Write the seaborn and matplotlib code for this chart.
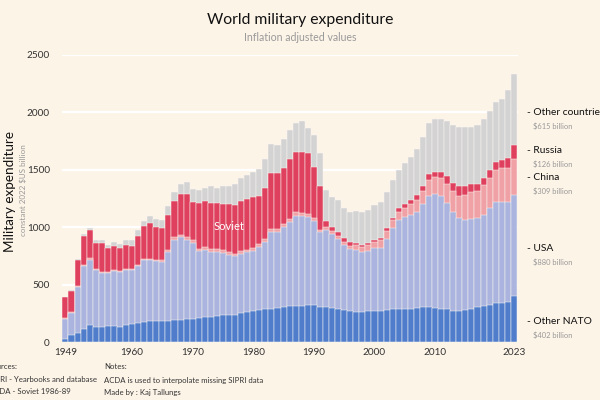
import numpy as np
import pandas as pd
import matplotlib
matplotlib.use("Agg")
import matplotlib.pyplot as plt
import matplotlib.transforms as mtransforms
import seaborn as sns

# expenditure, constant 2022 $US billion, 1949-2023
years = list(range(1949, 2024))

other_nato = [26, 64, 81, 111, 146, 134, 134, 142, 142, 134,
              146, 157, 163, 175, 183, 186, 186, 186, 192, 192,
              198, 204, 210, 215, 221, 227, 233, 239, 239, 250,
              262, 274, 280, 285, 291, 297, 303, 315, 315, 315,
              321, 321, 309, 303, 297, 291, 280, 270, 265, 265,
              270, 270, 270, 276, 291, 291, 285, 291, 297, 303,
              309, 297, 291, 285, 274, 274, 280, 291, 303, 314,
              326, 338, 344, 349, 402]
usa = [172, 192, 396, 553, 570, 495, 466, 458, 475, 477,
       483, 466, 495, 535, 527, 518, 512, 594, 699, 722,
       693, 658, 580, 585, 565, 559, 542, 519, 507, 519,
       519, 518, 547, 588, 664, 658, 698, 727, 785, 780,
       768, 733, 646, 669, 640, 606, 564, 536, 535, 521,
       527, 545, 551, 621, 699, 769, 804, 815, 838, 896,
       966, 996, 984, 926, 855, 803, 786, 781, 774, 792,
       838, 885, 879, 868, 880]
china = [7, 7, 8, 11, 12, 11, 11, 11, 11, 11,
         11, 11, 12, 12, 12, 12, 14, 23, 21, 21,
         21, 23, 23, 25, 24, 24, 25, 24, 24, 24,
         24, 24, 25, 27, 29, 29, 29, 29, 29, 27,
         25, 23, 23, 29, 29, 29, 29, 34, 41, 41,
         47, 53, 64, 70, 70, 69, 81, 93, 99, 117,
         134, 145, 157, 169, 187, 192, 215, 232, 239, 262,
         268, 279, 291, 303, 309]
russia = [185, 185, 231, 245, 244, 222, 251, 204, 205, 193,
          204, 205, 250, 285, 315, 285, 283, 303, 316, 357,
          380, 332, 398, 400, 401, 401, 405, 418, 424, 436,
          441, 448, 423, 445, 489, 489, 484, 524, 525, 537,
          534, 448, 379, 53, 35, 29, 30, 28, 21, 19,
          18, 23, 23, 23, 23, 35, 35, 41, 47, 46,
          58, 47, 47, 70, 70, 88, 76, 76, 64, 58,
          70, 70, 69, 87, 126]
other = [5, 5, 6, 23, 18, 23, 23, 29, 40, 41,
         41, 46, 52, 47, 58, 71, 71, 76, 82, 88,
         100, 117, 109, 120, 151, 134, 152, 157, 180, 203,
         210, 221, 233, 245, 250, 244, 256, 251, 256, 263,
         215, 280, 291, 268, 262, 279, 261, 261, 276, 283,
         291, 303, 315, 320, 326, 338, 355, 373, 402, 420,
         443, 454, 460, 471, 500, 518, 512, 489, 506, 513,
         513, 518, 536, 588, 615]

series_names = ["Other NATO", "USA", "China", "Russia", "Other countries"]
series_colors = ["#4f7dcc", "#aab4de", "#f0a1a6", "#de405e", "#d3d3d3"]
label_texts = ["- Other NATO", "- USA", "- China", "- Russia", "- Other countries"]
label_y = [175, 812, 1432, 1668, 2000]
ticks = [1949, 1960, 1970, 1980, 1990, 2000, 2010, 2023]

df = pd.DataFrame({"year": years, "Other NATO": other_nato, "USA": usa,
                   "China": china, "Russia": russia, "Other countries": other})
cum = df[series_names].cumsum(axis=1)
cum["year"] = df["year"]

bg = "#fdf4e8"
sns.set_theme(style="white")
plt.rcParams["font.family"] = ["Lato", "DejaVu Sans"]

fig = plt.figure(figsize=(6, 4), dpi=100, facecolor=bg)
ax = fig.add_axes([0.103, 0.145, 0.76, 0.7175])
ax.set_facecolor(bg)

for v in range(0, 2501, 500):
    ax.axhline(v, color="white", lw=1.6, zorder=0)

# stacked bars: draw cumulative totals from top layer down
for name, col in zip(series_names[::-1], series_colors[::-1]):
    sns.barplot(data=cum, x="year", y=name, color=col, saturation=1,
                native_scale=True, width=1.0, edgecolor="#fbf7f2",
                linewidth=0.35, ax=ax, zorder=2)

ax.set_xlim(1948.4, 2023.65)
ax.set_ylim(0, 2500)
ax.set_xlabel("")
ax.set_ylabel("")
sns.despine(ax=ax, left=True, bottom=True)
ax.set_xticks(ticks)
ax.set_xticklabels([str(t) for t in ticks], fontsize=7.2, color="#333333")
ax.set_xticks(years, minor=True)
ax.tick_params(axis="x", which="major", length=2.5, color="#dddddd", pad=2)
ax.tick_params(axis="x", which="minor", length=2.5, color="#dddddd")
ax.set_yticks(range(0, 2501, 500))
ax.tick_params(axis="y", labelsize=7.2, labelcolor="#333333", length=0, pad=8.5)

ax.text(1976, 1010, "Soviet", color="white", fontsize=8, ha="center", va="center", zorder=5)

trans = mtransforms.blended_transform_factory(ax.transAxes, ax.transData)
for name, txt, yv in zip(series_names, label_texts, label_y):
    val = df[name].iloc[-1]
    ax.text(1.02, yv, txt, transform=trans, fontsize=7.4, color="#111111",
            va="center", ha="left", clip_on=False)
    ax.text(1.034, yv - 118, f"${val} billion", transform=trans, fontsize=5.4,
            color="#999999", va="center", ha="left", clip_on=False)

fig.text(0.5, 0.95, "World military expenditure", ha="center", va="center",
         fontsize=11.3, color="#111111")
fig.text(0.5, 0.907, "Inflation adjusted values", ha="center", va="center",
         fontsize=7.6, color="#999999")

fig.text(0.016, 0.52, "Military expenditure", rotation=90, ha="center", va="center",
         fontsize=9.7, color="#111111")
fig.text(0.0395, 0.525, "constant 2022 $US billion", rotation=90, ha="center", va="center",
         fontsize=5.8, color="#999999")

foot = dict(fontsize=5.6, color="#333333", ha="left", va="center")
fig.text(-0.018, 0.083, "Sources:", **foot)
fig.text(-0.018, 0.05, "SIPRI - Yearbooks and database", **foot)
fig.text(-0.018, 0.02, "ACDA - Soviet 1986-89", **foot)
fig.text(0.174, 0.083, "Notes:", **foot)
fig.text(0.174, 0.05, "ACDA is used to interpolate missing SIPRI data", **foot)
fig.text(0.174, 0.02, "Made by : Kaj Tallungs", **foot)

fig.savefig("out.png", dpi=100, facecolor=bg)
